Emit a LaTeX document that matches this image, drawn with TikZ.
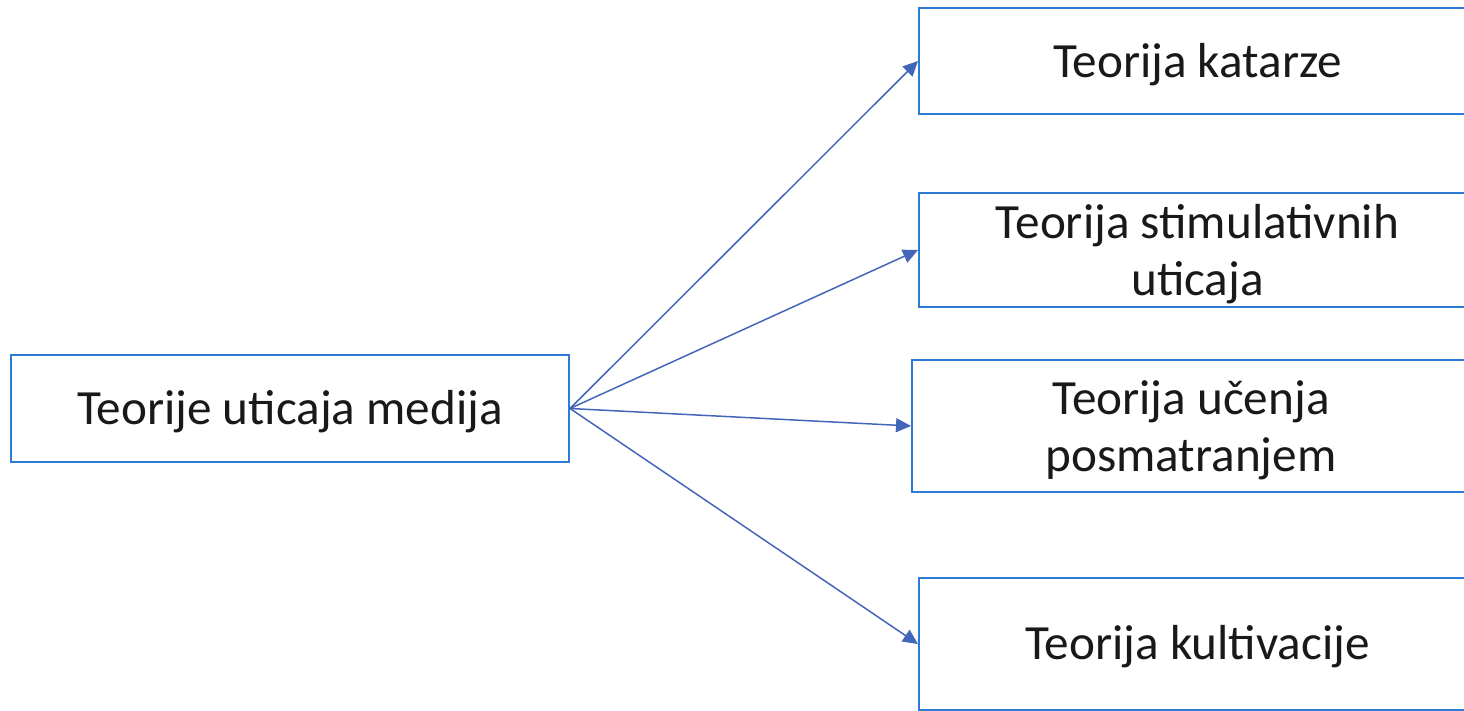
\documentclass[tikz,border=0pt]{standalone}
\usepackage{fontspec}
\setmainfont{Carlito}
\usetikzlibrary{arrows.meta}
\definecolor{boxblue}{HTML}{2E7BD6}
\definecolor{arrowblue}{HTML}{4466B8}
\tikzset{
  box/.style={draw=boxblue, line width=1pt, fill=white, rectangle, inner sep=0pt},
  lbl/.style={align=center, inner sep=0pt, text=black!90, font=\fontsize{24.6}{28.5}\selectfont},
  conn/.style={draw=arrowblue, line width=0.75pt, -{Triangle[length=7.5pt,width=7pt]}}
}
\begin{document}
\begin{tikzpicture}[x=0.5pt,y=-0.5pt]
\useasboundingbox (0,0) rectangle (1464,711);
\clip (0,0) rectangle (1464,711);
\node[box, minimum width=279pt, minimum height=53.5pt] (src) at (290,408.5) {};
\node[box, minimum width=280.5pt, minimum height=53pt] (b1) at (1199.5,61) {};
\node[box, minimum width=280.5pt, minimum height=57pt] (b2) at (1199.5,250) {};
\node[box, minimum width=279pt, minimum height=66pt] (b3) at (1191,426) {};
\node[box, minimum width=280.5pt, minimum height=66pt] (b4) at (1199.5,644) {};
\node[lbl] (t0) at ([yshift=-1.5pt]src.center) {Teorije uticaja medija};
\node[lbl] (t1) at ([yshift=-2pt,xshift=-1pt]b1.center) {Teorija katarze};
\node[lbl] (t2) at ([yshift=-2pt,xshift=-1pt]b2.center) {Teorija stimulativnih\\uticaja};
\node[lbl] (t3) at ([yshift=-2pt]b3.center) {Teorija učenja\\posmatranjem};
\node[lbl] (t4) at ([yshift=-1.5pt,xshift=-1pt]b4.center) {Teorija kultivacije};
\coordinate (s) at (src.east);
\draw[conn] (s) -- (b1.west);
\draw[conn] (s) -- (b2.west);
\draw[conn] (s) -- (b3.west);
\draw[conn] (s) -- (b4.west);
\end{tikzpicture}
\end{document}
